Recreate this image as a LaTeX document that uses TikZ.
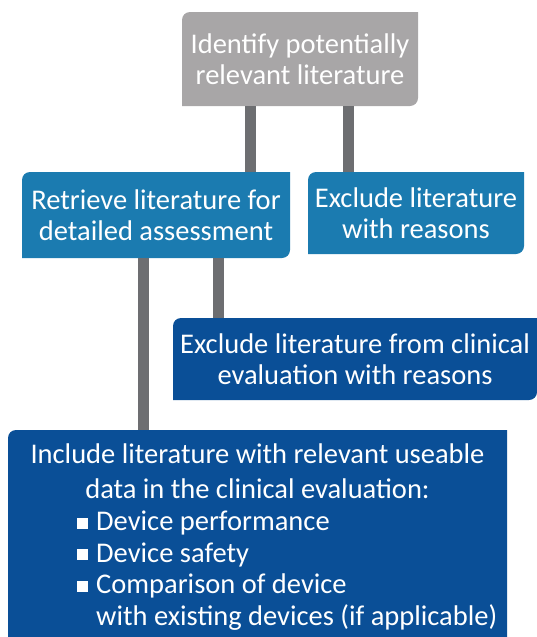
\documentclass[tikz,border=0pt]{standalone}
\usepackage{fontspec}
\setmainfont{Carlito}
\usetikzlibrary{positioning}
\definecolor{boxgray}{HTML}{A8A6A7}
\definecolor{boxblue}{HTML}{1B7BB0}
\definecolor{boxnavy}{HTML}{0A4F97}
\definecolor{linkgray}{HTML}{6D6E71}
\newcommand{\bul}{\rule[2pt]{11pt}{11pt}\hspace{8pt}}
\tikzset{
  txt/.style={text=white, inner sep=0pt, font=\fontsize{28.5}{31.5}\selectfont},
  leaf/.style={rectangle, inner sep=0pt, outer sep=0pt, txt, align=center, anchor=north west,
    path picture={\fill[#1] (path picture bounding box.south west)
      -- ([yshift=-8pt]path picture bounding box.north west)
      arc[start angle=180, end angle=90, radius=8pt]
      -- (path picture bounding box.north east)
      -- ([yshift=8pt]path picture bounding box.south east)
      arc[start angle=0, end angle=-90, radius=8pt] -- cycle;}},
  link/.style={draw=linkgray, line width=11pt}
}
\begin{document}
\begin{tikzpicture}[x=1pt, y=-1pt]
    \useasboundingbox (0,0) rectangle (537,637);
    %boxes
    \node[leaf=boxgray, minimum width=236pt, minimum height=94pt] (ident) at (182,12) {Identify potentially\\relevant literature};
    \node[leaf=boxblue, minimum width=268pt, minimum height=86pt] (retr) at (22,172) {Retrieve literature for\\detailed assessment};
    \node[leaf=boxblue, minimum width=216pt, minimum height=82pt] (exclwhy) at (308,172) {Exclude literature\\with reasons};
    \node[leaf=boxnavy, minimum width=364pt, minimum height=82pt] (exclclin) at (173,318) {Exclude literature from clinical\\evaluation with reasons};
    \node[leaf=boxnavy, minimum width=499pt, minimum height=215pt] (incl) at (8,430) {};
    \node[txt, font=\fontsize{28.5}{35}\selectfont, align=center, below=14pt of incl.north] (incltitle) {Include literature with relevant useable\\data in the clinical evaluation:};
    \node[txt, align=left, anchor=north west] (incllist) at (77,511) {\bul Device performance\\\bul Device safety\\\bul Comparison of device\\\hphantom{\bul}with existing devices (if applicable)};
    %links
    \draw[link] ([xshift=-50pt]ident.south) -- ([xshift=-50pt]ident.south |- retr.north);
    \draw[link] ([xshift=48pt]ident.south) -- ([xshift=48pt]ident.south |- exclwhy.north);
    \draw[link] ([xshift=-13pt]retr.south) -- ([xshift=-13pt]retr.south |- incl.north);
    \draw[link] ([xshift=62pt]retr.south) -- ([xshift=62pt]retr.south |- exclclin.north);
\end{tikzpicture}
\end{document}
